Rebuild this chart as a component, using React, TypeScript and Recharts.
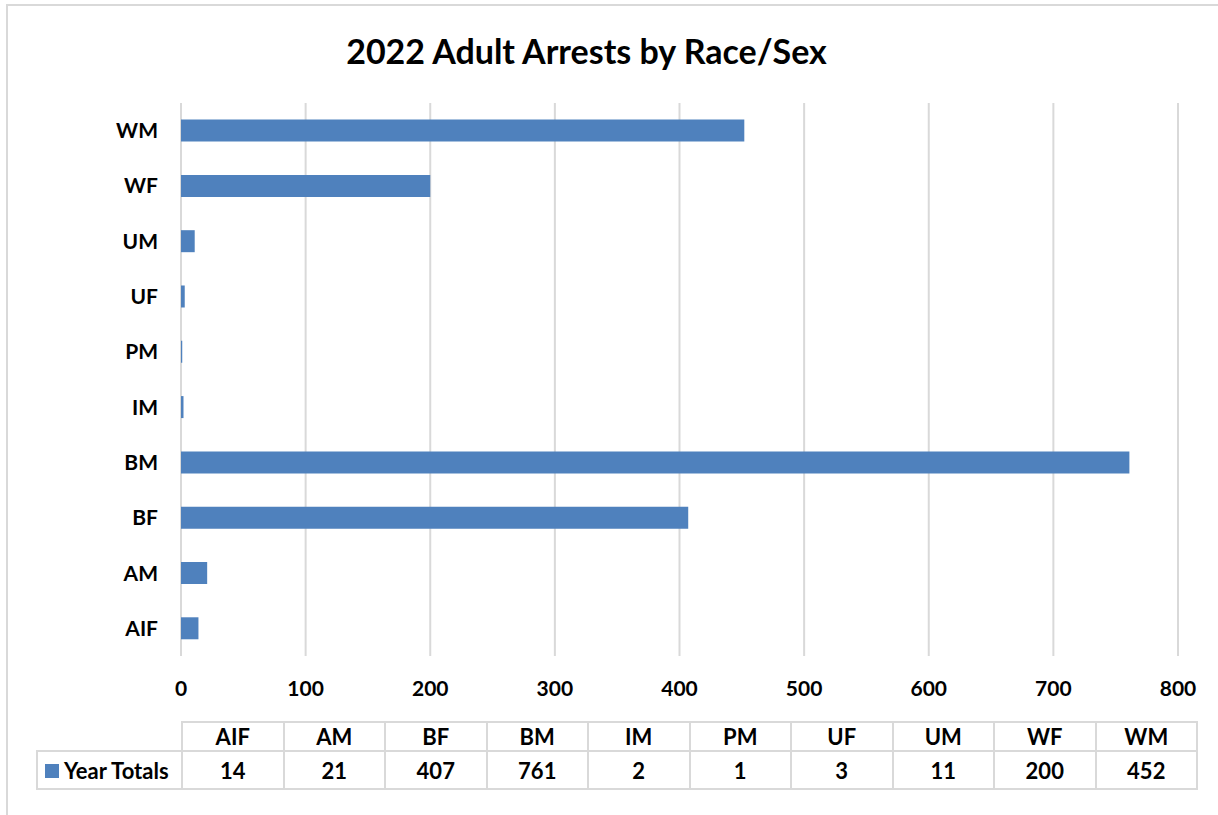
import React from "react";
import { Bar, BarChart, CartesianGrid, XAxis, YAxis } from "recharts";

const categories = ["AIF", "AM", "BF", "BM", "IM", "PM", "UF", "UM", "WF", "WM"];
const yearTotals = [14, 21, 407, 761, 2, 1, 3, 11, 200, 452];
const xTicks = [0, 100, 200, 300, 400, 500, 600, 700, 800];
const seriesName = "Year Totals";
const title = "2022 Adult Arrests by Race/Sex";

const BLUE = "#4f81bd";
const GRID = "#d9d9d9";
const FONT = "Lato, 'Open Sans', sans-serif";

const data = categories.map((c, i) => ({ name: c, total: yearTotals[i] }));

const cell: React.CSSProperties = {
  border: `2px solid ${GRID}`,
  textAlign: "center",
  padding: 0,
  fontWeight: 700,
  fontSize: 22,
  color: "#000",
};

export default function App() {
  return (
    <div
      style={{
        position: "absolute",
        left: 0,
        top: 0,
        width: 1218,
        height: 815,
        overflow: "hidden",
        background: "#fff",
        fontFamily: FONT,
      }}
    >
      {/* chart area frame, cut off on right and bottom like the source */}
      <div
        style={{
          position: "absolute",
          left: 6,
          top: 4,
          width: 1240,
          height: 840,
          border: `2px solid ${GRID}`,
          boxSizing: "border-box",
        }}
      />
      <div
        style={{
          position: "absolute",
          left: 0,
          top: 30,
          width: 1173,
          textAlign: "center",
          fontSize: 34,
          fontWeight: 700,
          lineHeight: "42px",
          color: "#000",
        }}
      >
        {title}
      </div>
      <div style={{ position: "absolute", left: 0, top: 0 }}>
        <BarChart
          width={1218}
          height={815}
          data={data}
          layout="vertical"
          margin={{ top: 103, right: 40, bottom: 129, left: 0 }}
          barCategoryGap="30%"
        >
          <CartesianGrid horizontal={false} stroke={GRID} strokeWidth={2} />
          <XAxis
            type="number"
            domain={[0, 800]}
            ticks={xTicks}
            height={30}
            axisLine={false}
            tickLine={false}
            tickMargin={19}
            tick={{ fill: "#000", fontSize: 21, fontWeight: 700, fontFamily: FONT }}
          />
          <YAxis
            type="category"
            dataKey="name"
            reversed
            width={181}
            axisLine={false}
            tickLine={false}
            tickMargin={17}
            tick={{ fill: "#000", fontSize: 21, fontWeight: 700, fontFamily: FONT }}
          />
          <Bar dataKey="total" name={seriesName} fill={BLUE} isAnimationActive={false} />
        </BarChart>
      </div>
      <table
        style={{
          position: "absolute",
          left: 36,
          top: 721,
          borderCollapse: "collapse",
          tableLayout: "fixed",
          width: 1160,
          fontFamily: FONT,
        }}
      >
        <colgroup>
          <col style={{ width: 145 }} />
          {categories.map((c) => (
            <col key={c} style={{ width: 101.5 }} />
          ))}
        </colgroup>
        <tbody>
          <tr style={{ height: 29 }}>
            <td style={{ padding: 0 }} />
            {categories.map((c) => (
              <td key={c} style={cell}>
                {c}
              </td>
            ))}
          </tr>
          <tr style={{ height: 38 }}>
            <td style={{ ...cell, textAlign: "left", paddingLeft: 7, whiteSpace: "nowrap" }}>
              <span
                style={{
                  display: "inline-block",
                  width: 14,
                  height: 14,
                  background: BLUE,
                  marginRight: 5,
                  verticalAlign: "middle",
                  position: "relative",
                  top: -2,
                }}
              />
              {seriesName}
            </td>
            {yearTotals.map((v, i) => (
              <td key={categories[i]} style={cell}>
                {v}
              </td>
            ))}
          </tr>
        </tbody>
      </table>
    </div>
  );
}
